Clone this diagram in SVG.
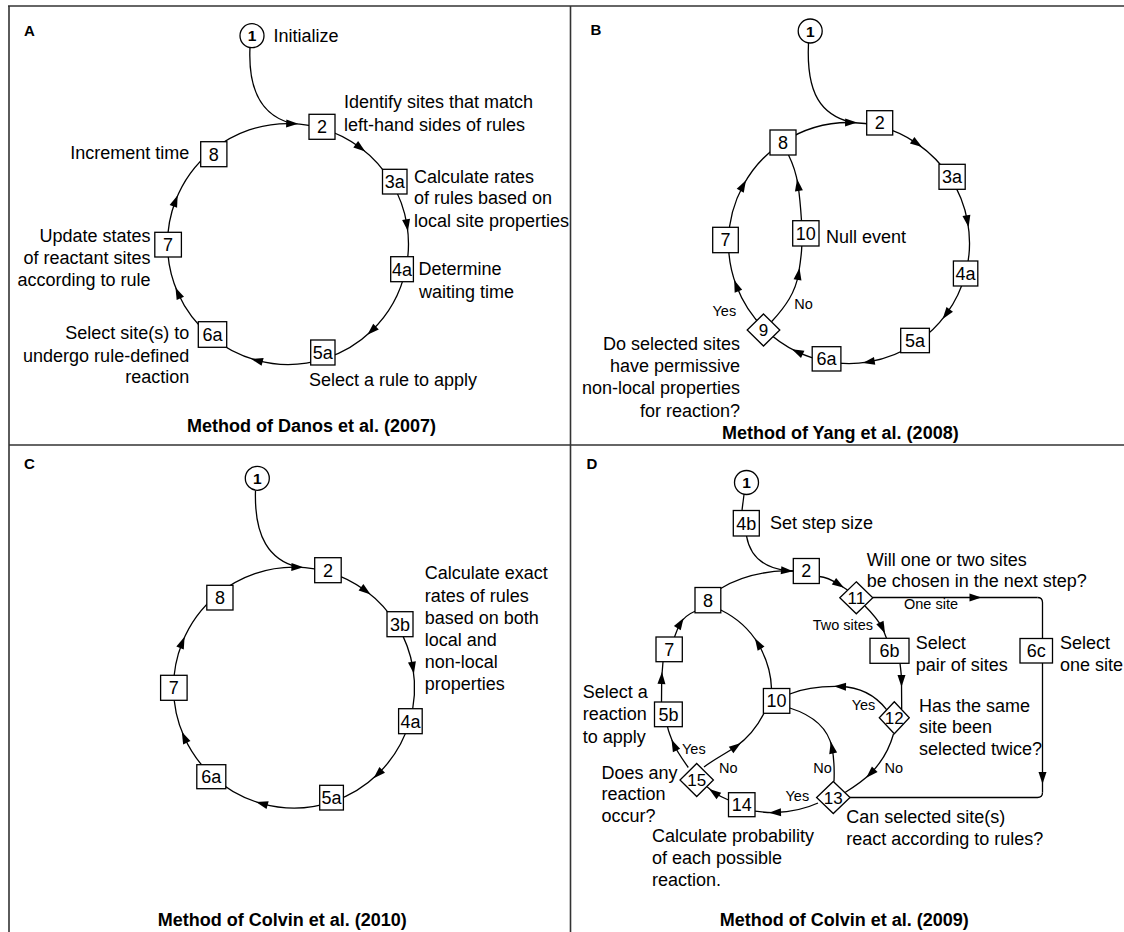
<svg xmlns="http://www.w3.org/2000/svg" width="1124" height="932" viewBox="0 0 1124 932">
<style>
text{font-family:"Liberation Sans",Arial,Helvetica,sans-serif;font-size:18px;fill:#000}
.s{font-size:14.5px}
.b{font-weight:bold}
.k{font-weight:bold;font-size:15px}
.o{font-weight:bold;font-size:15.5px}
.d{font-size:17px}
.m{text-anchor:middle}
.e{text-anchor:end}
.n rect,.n polygon,.n circle{fill:#fff;stroke:#000;stroke-width:1.3}
.c path{fill:none;stroke:#000;stroke-width:1.3}
.c .a{marker-mid:url(#ah)}
.f line{stroke:#333;stroke-width:1.6}
</style>
<defs>
<marker id="ah" viewBox="-7 -5 14 10" refX="0" refY="0" markerWidth="14" markerHeight="10" markerUnits="userSpaceOnUse" orient="auto"><path d="M6,0 L-6,-4 L-6,4 Z" fill="#000"/></marker>
</defs>
<rect width="1124" height="932" fill="#fff"/>
<g id="frame" class="f">
<line x1="8" y1="6" x2="1124" y2="6"/>
<line x1="9" y1="6" x2="9" y2="932"/>
<line x1="9" y1="445" x2="1124" y2="445"/>
<line x1="570.5" y1="6" x2="570.5" y2="932"/>
</g>
<g id="panel-labels">
<text class="k" x="24" y="36">A</text>
<text class="k" x="590.5" y="34.5">B</text>
<text class="k" x="24" y="468.5">C</text>
<text class="k" x="586.5" y="469">D</text>
<text class="b m" x="311.5" y="431.7">Method of Danos et al. (2007)</text>
<text class="b m" x="840.3" y="439.3">Method of Yang et al. (2008)</text>
<text class="b m" x="282.3" y="926">Method of Colvin et al. (2010)</text>
<text class="b m" x="844.3" y="926">Method of Colvin et al. (2009)</text>
</g>
<g id="connectors" class="c">
<!-- Panel A -->
<path d="M250,47.5 C248,90 262,116 292.2,123.6"/>
<path class="a" d="M211.2,151.2 A120.5,120.5 0 0 1 292.2,123.6 A120.5,120.5 0 0 1 321.6,128.3"/>
<path class="a" d="M321.6,128.3 A120.5,120.5 0 0 1 360.5,147.8 A120.5,120.5 0 0 1 391.6,182.5"/>
<path class="a" d="M391.6,182.5 A120.5,120.5 0 0 1 407,225.2 A120.5,120.5 0 0 1 405.6,270.1"/>
<path class="a" d="M405.6,270.1 A120.5,120.5 0 0 1 371.7,330.7 A120.5,120.5 0 0 1 324.8,358.7"/>
<path class="a" d="M324.8,358.7 A120.5,120.5 0 0 1 256.8,360.4 A120.5,120.5 0 0 1 210.9,336.6"/>
<path class="a" d="M210.9,336.6 A120.5,120.5 0 0 1 177.9,293 A120.5,120.5 0 0 1 167.5,244"/>
<path class="a" d="M167.5,244 A120.5,120.5 0 0 1 175.5,200.8 A120.5,120.5 0 0 1 211.2,151.2"/>
<!-- Panel B -->
<path d="M808.5,43 C806,95 822,115 851.1,122.5"/>
<path class="a" d="M782.5,142.5 A120.5,120.5 0 0 1 851.1,122.5 A120.5,120.5 0 0 1 878.8,126.2"/>
<path class="a" d="M878.8,126.2 A120.5,120.5 0 0 1 917.1,143.6 A120.5,120.5 0 0 1 950.4,177.9"/>
<path class="a" d="M950.4,177.9 A120.5,120.5 0 0 1 967.5,221.3 A120.5,120.5 0 0 1 965.6,273.6"/>
<path class="a" d="M965.6,273.6 A120.5,120.5 0 0 1 946.2,314.2 A120.5,120.5 0 0 1 916.6,342.8"/>
<path class="a" d="M916.6,342.8 A120.5,120.5 0 0 1 868.7,361.9 A120.5,120.5 0 0 1 826,361.3"/>
<path class="a" d="M826,361.3 A120.5,120.5 0 0 1 797.3,351.9 A120.5,120.5 0 0 1 764.5,329"/>
<path class="a" d="M764.5,329 A120.5,120.5 0 0 1 736.3,285.6 A120.5,120.5 0 0 1 728.5,240.3"/>
<path class="a" d="M728.5,240.3 A120.5,120.5 0 0 1 743.1,185.5 A120.5,120.5 0 0 1 782.5,142.5"/>
<path class="a" d="M771.5,321.8 C786,306 795.5,292 798.5,274 C799.8,266 801.5,256 801.8,246"/>
<path class="a" d="M801.5,220.7 C800.5,205 799.5,195 798,185 C796,172 792.5,163 788.5,155"/>
<text class="s" x="712.5" y="315.5">Yes</text>
<text class="s" x="794.3" y="309">No</text>
<!-- Panel C -->
<path d="M255.5,490.5 C254,538 270,560 297.4,567.1"/>
<path class="a" d="M217.4,594.5 A120.5,120.5 0 0 1 297.4,567.1 A120.5,120.5 0 0 1 327.6,571.8"/>
<path class="a" d="M327.6,571.8 A120.5,120.5 0 0 1 365.8,590.8 A120.5,120.5 0 0 1 397.5,625.8"/>
<path class="a" d="M397.5,625.8 A120.5,120.5 0 0 1 412.9,667.8 A120.5,120.5 0 0 1 409.8,720.9"/>
<path class="a" d="M409.8,720.9 A120.5,120.5 0 0 1 377.9,774 A120.5,120.5 0 0 1 332.8,801.6"/>
<path class="a" d="M332.8,801.6 A120.5,120.5 0 0 1 261.8,803.6 A120.5,120.5 0 0 1 212.2,776"/>
<path class="a" d="M212.2,776 A120.5,120.5 0 0 1 184.3,737.3 A120.5,120.5 0 0 1 173.5,687.5"/>
<path class="a" d="M173.5,687.5 A120.5,120.5 0 0 1 182.3,642.4 A120.5,120.5 0 0 1 217.4,594.5"/>
<!-- Panel D -->
<path d="M744,494.5 L742,510.5"/>
<path class="a" d="M746.5,536 C750,556 764,568 787,570.7 L793.3,571"/>
<path d="M720.7,588.5 C738,578 762,571.5 787,570.7 L793.3,571"/>
<path class="a" d="M819.3,576.5 C826,577 832,580 839,584.5 L847.5,590"/>
<path class="a" d="M865,606 C872,613 878,620 882.5,628 L886.5,638.3"/>
<path class="a" d="M900,663.3 Q901.5,675 901.5,681 L901.7,709"/>
<path class="a" d="M886.8,709.8 C876,696 860,687 840,686.5 C818,686 802,689 789.8,694"/>
<path class="a" d="M893.5,734 C889,750 881,763 870.5,773.5 C864,780 857,785 845,792.5"/>
<path class="a" d="M834,781.5 C834.5,770 834,758 832,747.5 C828,728 812,715 789.8,708"/>
<path class="a" d="M818,803 C805,809 790,812 775,812.5 C767,812.7 761,812 755,811.2"/>
<path class="a" d="M728.5,800 Q721,797 714,792.5 L707,786.8"/>
<path class="a" d="M688.3,767.5 C683,760 677.5,752 674,745 C671,738 668.5,732 667.5,726.7"/>
<path class="a" d="M661.5,702 L661.7,678 L663,661.7"/>
<path class="a" d="M674.5,637 C676.5,632 678,627 680.5,623 C684,617.5 688.5,614 695.5,611"/>
<path class="a" d="M704,767 C713,760 725,754 736,746.5 C748,738 757,727 764,713.3"/>
<path class="a" d="M771.5,688.5 C771,672 766,657 758,643.5 C748,627 735,617 720.8,610"/>
<g id="one-site-branch">
<path class="a" d="M872.8,597.5 L975.5,597.5 L1037.5,597.5"/>
<path d="M1037.5,597.5 Q1042.5,597.5 1042.5,602.5 L1042.5,638.5"/>
<path class="a" d="M1042.5,663 L1042.5,778 L1042.5,792.5"/>
<path d="M1042.5,792.5 Q1042.5,797.5 1037.5,797.5 L850,797.5"/>
</g>
<text class="s" x="904" y="609.3">One site</text>
<text class="s" x="812.7" y="630">Two sites</text>
<text class="s" x="851.7" y="710">Yes</text>
<text class="s" x="884.5" y="773.3">No</text>
<text class="s" x="813.3" y="773.3">No</text>
<text class="s" x="785.5" y="800.5">Yes</text>
<text class="s" x="682" y="754.3">Yes</text>
<text class="s" x="719" y="772.7">No</text>
</g>
<g id="nodes" class="n">
<!-- Panel A -->
<g id="a1"><circle cx="252" cy="35.7" r="12"/><text class="o m" x="252" y="41.3">1</text><text x="273.5" y="41.7">Initialize</text></g>
<g id="a2"><rect x="309" y="114.3" width="26" height="25"/><text class="m" x="322" y="133.3">2</text><text x="344" y="108.3">Identify sites that match</text><text x="344" y="130.7">left-hand sides of rules</text></g>
<g id="a3a"><rect x="382.5" y="169.3" width="24.5" height="24.7"/><text class="m" x="394.75" y="188.1">3a</text><text x="414" y="182.7">Calculate rates</text><text x="414" y="204.3">of rules based on</text><text x="414" y="226.7">local site properties</text></g>
<g id="a4a"><rect x="390.7" y="256.7" width="22.7" height="25"/><text class="m" x="402" y="275.6">4a</text><text x="418.6" y="275.3">Determine</text><text x="419" y="297.7">waiting time</text></g>
<g id="a5a"><rect x="310.7" y="340" width="24.3" height="25"/><text class="m" x="322.85" y="358.9">5a</text><text x="309" y="386">Select a rule to apply</text></g>
<g id="a6a"><rect x="198.3" y="321.7" width="28.4" height="25.6"/><text class="m" x="212.5" y="340.9">6a</text><text class="e" x="189.2" y="339.3">Select site(s) to</text><text class="e" x="189.2" y="361.7">undergo rule-defined</text><text class="e" x="189.2" y="383.3">reaction</text></g>
<g id="a7"><rect x="154.8" y="232.3" width="26.6" height="24.7"/><text class="m" x="168.1" y="251.1">7</text><text class="e" x="150.5" y="241.7">Update states</text><text class="e" x="150.5" y="264">of reactant sites</text><text class="e" x="150.5" y="286">according to rule</text></g>
<g id="a8"><rect x="200.7" y="141.7" width="26.2" height="25"/><text class="m" x="213.8" y="160.6">8</text><text class="e" x="189.2" y="159.3">Increment time</text></g>
<!-- Panel B -->
<g id="b1"><circle cx="810.2" cy="31" r="12"/><text class="o m" x="810.2" y="36.6">1</text></g>
<g id="b2"><rect x="866.7" y="110.7" width="26" height="24.3"/><text class="m" x="879.7" y="129.3">2</text></g>
<g id="b3a"><rect x="939" y="164.3" width="26.2" height="25"/><text class="m" x="952.1" y="183.3">3a</text></g>
<g id="b4a"><rect x="953.4" y="261" width="24.4" height="25"/><text class="m" x="965.6" y="280">4a</text></g>
<g id="b5a"><rect x="900.7" y="328.3" width="28.7" height="24.4"/><text class="m" x="915" y="347">5a</text></g>
<g id="b6a"><rect x="812.2" y="346.7" width="28.7" height="24.3"/><text class="m" x="826.5" y="365.3">6a</text></g>
<g id="b7"><rect x="712.7" y="227.3" width="25.6" height="25.4"/><text class="m" x="725.5" y="246.4">7</text></g>
<g id="b8"><rect x="770" y="130" width="26" height="25"/><text class="m" x="783" y="149">8</text></g>
<g id="b10"><rect x="792.7" y="220.7" width="26.3" height="25.3"/><text class="m" x="805.85" y="239.8">10</text><text x="826" y="243.3">Null event</text></g>
<g id="b9"><polygon points="763.5,314 779.8,330 763.5,346 747.2,330"/><text class="d m" x="763.5" y="336">9</text><text class="e" x="740" y="350">Do selected sites</text><text class="e" x="740" y="371.7">have permissive</text><text class="e" x="740" y="394">non-local properties</text><text class="e" x="740" y="416.7">for reaction?</text></g>
<!-- Panel C -->
<g id="c1"><circle cx="257.3" cy="478.3" r="12"/><text class="o m" x="257.3" y="483.9">1</text></g>
<g id="c2"><rect x="314.7" y="557.7" width="26.5" height="25"/><text class="m" x="327.95" y="576.6">2</text></g>
<g id="c3b"><rect x="387" y="611.7" width="26" height="25"/><text class="m" x="400" y="630.6">3b</text><text x="424.7" y="579.3">Calculate exact</text><text x="424.7" y="601.7">rates of rules</text><text x="424.7" y="623.7">based on both</text><text x="424.7" y="646">local and</text><text x="424.7" y="667.7">non-local</text><text x="424.7" y="690">properties</text></g>
<g id="c4a"><rect x="398.6" y="708.7" width="23.6" height="25"/><text class="m" x="410.4" y="727.6">4a</text></g>
<g id="c5a"><rect x="319.7" y="785.3" width="23.7" height="24.7"/><text class="m" x="331.55" y="804.1">5a</text></g>
<g id="c6a"><rect x="196.8" y="764.7" width="29" height="24"/><text class="m" x="211.3" y="783.1">6a</text></g>
<g id="c7"><rect x="160.6" y="675.3" width="26.5" height="25"/><text class="m" x="173.85" y="694.2">7</text></g>
<g id="c8"><rect x="206.8" y="585.3" width="26.2" height="24.7"/><text class="m" x="219.9" y="604.1">8</text></g>
<!-- Panel D -->
<g id="d1"><circle cx="746.5" cy="482.5" r="12"/><text class="o m" x="746.5" y="488.1">1</text></g>
<g id="d4b"><rect x="733.3" y="510.5" width="26" height="25.5"/><text class="m" x="746.3" y="529.6">4b</text><text x="770" y="529.3">Set step size</text></g>
<g id="d2"><rect x="793.3" y="558.5" width="26" height="25"/><text class="m" x="806.3" y="577.4">2</text></g>
<g id="d11"><polygon points="856.3,581.8 872.8,597.8 856.3,613.8 839.8,597.8"/><text class="d m" x="856.3" y="603.8">11</text><text x="866.7" y="566">Will one or two sites</text><text x="866.7" y="586.7">be chosen in the next step?</text></g>
<g id="d6b"><rect x="870" y="638.3" width="39" height="25"/><text class="m" x="889.5" y="657.2">6b</text><text x="915.7" y="649.3">Select</text><text x="915.7" y="670.5">pair of sites</text></g>
<g id="d6c"><rect x="1020" y="638.5" width="32.5" height="24.5"/><text class="m" x="1036.25" y="657.2">6c</text><text x="1060" y="649.3">Select</text><text x="1060" y="670.5">one site</text></g>
<g id="d12"><polygon points="894.3,701.8 909.3,717.8 894.3,733.8 879.3,717.8"/><text class="d m" x="894.3" y="723.8">12</text><text x="919" y="712.3">Has the same</text><text x="919" y="733.3">site been</text><text x="919" y="755">selected twice?</text></g>
<g id="d13"><polygon points="833.3,781.5 850,797.5 833.3,813.5 816.6,797.5"/><text class="d m" x="833.3" y="803.5">13</text><text x="846.2" y="822.7">Can selected site(s)</text><text x="846.2" y="845">react according to rules?</text></g>
<g id="d14"><rect x="728.5" y="792.7" width="26.5" height="24"/><text class="m" x="741.75" y="811.1">14</text><text x="652" y="841.5">Calculate probability</text><text x="652" y="863.8">of each possible</text><text x="652" y="886">reaction.</text></g>
<g id="d15"><polygon points="696.7,763.5 713.4,780 696.7,796.5 680,780"/><text class="d m" x="696.7" y="786">15</text><text x="601.5" y="778.5">Does any</text><text x="601.5" y="800.2">reaction</text><text x="601.5" y="822">occur?</text></g>
<g id="d5b"><rect x="654.5" y="702" width="27.8" height="24.7"/><text class="m" x="668.4" y="720.8">5b</text><text x="582.8" y="697.7">Select a</text><text x="582.8" y="720">reaction</text><text x="582.8" y="742.7">to apply</text></g>
<g id="d7"><rect x="656" y="637" width="26.3" height="24.7"/><text class="m" x="669.15" y="655.8">7</text></g>
<g id="d8"><rect x="695" y="587.5" width="25.8" height="25.3"/><text class="m" x="707.9" y="606.6">8</text></g>
<g id="d10"><rect x="763.4" y="688.5" width="26.4" height="24.8"/><text class="m" x="776.6" y="707.3">10</text></g>
</g>
</svg>
